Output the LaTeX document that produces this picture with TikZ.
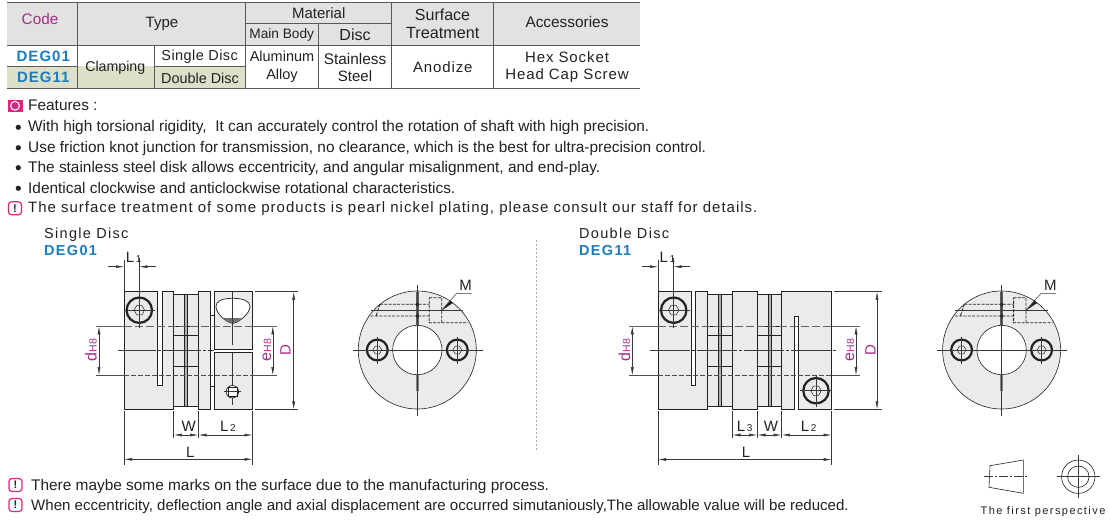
\documentclass[tikz,border=0pt]{standalone}
\usepackage{fontspec}
\setmainfont{Liberation Sans}
\usetikzlibrary{arrows.meta}
\definecolor{hdr}{HTML}{E2E2E0}
\definecolor{beige}{HTML}{DEDFC8}
\definecolor{body}{HTML}{EBEBEB}
\definecolor{blue1}{HTML}{1B7DBE}
\definecolor{purp}{HTML}{A62C8E}
\definecolor{pink}{HTML}{E0267F}
\definecolor{ink}{HTML}{222222}
\newcommand{\fs}[1]{\fontsize{#1}{#1}\selectfont}
\newcommand{\LS}[1]{\addfontfeature{LetterSpace=#1}}
\tikzset{
 tbl/.style={draw=ink!75,line width=.7pt},
 tx/.style={inner sep=0pt,text=ink,anchor=base,font=\fs{15}},
 note/.style={inner sep=0pt,text=ink,anchor=base west,font=\fs{15.4}},
 code/.style={inner sep=0pt,text=blue1,anchor=base,font=\fs{15}\bfseries\LS{7}},
 part/.style={draw=ink,line width=.7pt,fill=body},
 dim/.style={draw=ink!90,line width=.5pt},
 arr/.style={dim,{Latex[length=8pt,width=3pt]}-{Latex[length=8pt,width=3pt]}},
 arrin/.style={dim,-{Latex[length=8pt,width=3pt]}},
 cen/.style={draw=ink!90,line width=.45pt},
 hid/.style={draw=ink,line width=.8pt,dash pattern=on 3pt off 1.3pt},
 dimtx/.style={inner sep=0pt,text=ink,anchor=base west,font=\fs{15}},
 purptx/.style={inner sep=0pt,text=purp,rotate=90,anchor=base,font=\fs{16}},
}
% hex socket screw: centre, radius
\newcommand{\screw}[3]{%
 \fill[body] (#1,#2) circle (#3);
 \draw[ink,line width=2.2pt] (#1,#2) circle (#3-1.1);
 \draw[ink,line width=.5pt] (#1-#3*.38,#2) -- (#1-#3*.19,#2-#3*.33) -- (#1+#3*.19,#2-#3*.33) -- (#1+#3*.38,#2) -- (#1+#3*.19,#2+#3*.33) -- (#1-#3*.19,#2+#3*.33) -- cycle;
 \draw[cen] (#1-#3-2,#2) -- (#1+#3+2,#2) (#1,#2-#3-2) -- (#1,#2+#3+2);
}
\newcommand{\warn}[2]{%
 \node[draw=pink,line width=1.2pt,rounded corners=3pt,minimum width=13pt,minimum height=13pt,inner sep=0pt,text=ink,font=\fs{11}\bfseries] (#1) at #2 {!};}
% end view
\newcommand{\hubview}[1]{%
\begin{scope}[xshift=#1]
 \draw[part,line width=.6pt] (417.3,350) circle (59);
 \fill[white] (417.3,350) circle (24.7);
 \draw[ink,line width=.6pt] (417.3,350) circle (24.7);
 \fill[ink!70] (416,291.5) rectangle (418.8,325.6);
 \fill[ink!55] (416,375) rectangle (418.8,391);
 \fill[ink] (416,303) rectangle (418.8,306) (416,314.5) rectangle (418.8,317.5);
 \draw[hid] (380,304.3) -- (429.3,304.3) (370.7,316) -- (429.3,316) (429.3,297.7) -- (441.7,297.7) -- (441.7,322.7) -- (429.3,322.7) -- cycle (441.7,322.7) -- (468.3,322.7) (380,304.3) -- (376,316);
 \draw[cen] (371,310.7) -- (463.3,310.7);
 \screw{377.3}{350}{11.5}
 \screw{457.3}{350}{11.5}
 \draw[cen] (352.7,350) -- (482.7,350) (417.3,285) -- (417.3,416);
 \fill[ink] (441.7,310.5) -- (450.5,300.5) -- (452.8,303) -- cycle;
 \draw[dim] (441.7,310) -- (456.7,293.3) -- (471.7,293.3);
\end{scope}}
\begin{document}
\begin{tikzpicture}[x=1pt,y=-1pt]
\useasboundingbox (0,0) rectangle (1110,520);
\fill[white] (0,0) rectangle (1110,520);
% ---- table ----
\fill[hdr] (7.3,2) rectangle (640,45);
\fill[beige] (7.3,66) rectangle (245.3,88.3);
\draw[tbl] (7.3,2) -- (640,2) (7.3,88.3) -- (640,88.3);
\draw[tbl,line width=1pt] (7.3,45) -- (640,45);
\draw[tbl] (7.3,66) -- (77.3,66) (154,66) -- (245.3,66) (245.3,23.3) -- (391.7,23.3);
\draw[tbl] (77.3,2) -- (77.3,88.3) (154,45) -- (154,88.3) (245.3,2) -- (245.3,88.3) (318.3,23.3) -- (318.3,88.3) (391.7,2) -- (391.7,88.3) (493.3,2) -- (493.3,88.3);
\node[tx,text=purp,font=\fs{15.3}] (hcode) at (40,24) {Code};
\node[tx] (htype) at (162,27) {Type};
\node[tx] (hmat) at (318.7,18.3) {Material};
\node[tx,font=\fs{13.7}] (hmb) at (281.7,38.3) {Main Body};
\node[tx,font=\fs{16}] (hdisc) at (355,40) {Disc};
\node[tx,font=\fs{16}] (hsurf) at (442.5,20) {Surface};
\node[tx,font=\fs{16.2}] (htreat) at (442.8,38.3) {Treatment};
\node[tx,font=\fs{15.4}] (hacc) at (567,27.3) {Accessories};
\node[code] (c1) at (43.3,61.3) {DEG01};
\node[code] (c2) at (43.3,82.7) {DEG11};
\node[tx,font=\fs{14.2}] (cl) at (115.3,71.7) {Clamping};
\node[tx,font=\fs{14.5}\LS{3}] (sd) at (199.7,60.3) {Single Disc};
\node[tx,font=\fs{14.4}] (dd) at (200,83.3) {Double Disc};
\node[tx,font=\fs{14.5}] (al1) at (282,61.7) {Aluminum};
\node[tx,font=\fs{14.5}] (al2) at (282,79.3) {Alloy};
\node[tx,font=\fs{15.4}] (st1) at (355,64) {Stainless};
\node[tx] (st2) at (355,81) {Steel};
\node[tx,font=\fs{15}\LS{6}] (an) at (442.8,72) {Anodize};
\node[tx,font=\fs{15}\LS{6}] (hs) at (567,62) {Hex Socket};
\node[tx,font=\fs{15}\LS{6}] (hh) at (567,79.3) {Head Cap Screw};
% ---- features ----
\node[fill=pink,minimum width=15pt,minimum height=12.5pt,inner sep=0pt] (fb) at (15,105.8) {};
\draw[white,line width=1pt] (fb.center) circle (4.4);
\node[note] (f0) at (28,110) {Features :};
\foreach \y in {127.3,147.7,167.7,188.3}{\fill[ink] (18.3,\y) circle (2.6);}
\node[note] (f1) at (28,131.7) {With high torsional rigidity,~ It can accurately control the rotation of shaft with high precision.};
\node[note] (f2) at (28,152.3) {Use friction knot junction for transmission, no clearance, which is the best for ultra-precision control.};
\node[note] (f3) at (28,172.3) {The stainless steel disk allows eccentricity, and angular misalignment, and end-play.};
\node[note] (f4) at (28,193.3) {Identical clockwise and anticlockwise rotational characteristics.};
\warn{w1}{(15,208.3)}
\node[note,font=\fs{15}\LS{6.6}] (f5) at (28,212.7) {The surface treatment of some products is pearl nickel plating, please consult our staff for details.};
% ---- titles ----
\node[tx,anchor=base west,font=\fs{14.5}\LS{9}] (t1) at (44,238.3) {Single Disc};
\node[code,anchor=base west,font=\fs{14.5}\bfseries\LS{9}] (t1b) at (44,255) {DEG01};
\node[tx,anchor=base west,font=\fs{14.5}\LS{9}] (t2) at (579,238.3) {Double Disc};
\node[code,anchor=base west,font=\fs{14.5}\bfseries\LS{9}] (t2b) at (579,255) {DEG11};
\draw[ink!40,line width=.5pt,dash pattern=on 2pt off 2pt] (536,240) -- (536,450);
% ---- drawing 1 ----
\draw[part] (124,291.5) -- (157.4,291.5) -- (157.4,385.5) -- (162,385.5) -- (162,291.5) -- (173.7,291.5) -- (173.7,409.7) -- (124,409.7) -- cycle;
\draw[part] (173.7,294.7) rectangle (184.4,406.7);
\draw[part,fill=ink!35] (184.4,294.7) rectangle (187.7,406.7);
\draw[part] (187.7,294.7) rectangle (198.3,406.7);
\draw[part] (198.3,291.5) rectangle (210.7,409.7);
\draw[part] (214,291.5) rectangle (252.7,349);
\draw[part] (214,352.3) rectangle (252.7,409.7);
\draw[part] (210.7,315) -- (214,315) (210.7,386) -- (214,386);
\draw[ink,line width=.6pt] (173.7,335) -- (198.3,335) (173.7,366) -- (198.3,366);
\draw[ink,line width=1pt] (173.7,326) -- (198.3,326);
\draw[part,fill=white] (232.7,298.3) .. controls (222,298.3) and (216,301) .. (216,306.5) .. controls (216,313) and (225,322) .. (232.7,323.5) .. controls (240,322) and (250,313) .. (250,306.5) .. controls (250,301) and (243,298.3) .. (232.7,298.3) -- cycle;
\fill[ink!65] (222.5,318) -- (243,318) -- (232.7,323.5) -- cycle;
\draw[ink!70,line width=.7pt] (95.7,326) -- (124,326) (252.7,326) -- (277,326);
\draw[ink!80,line width=.5pt] (95.7,375.5) -- (124,375.5) (252.7,375.5) -- (277,375.5);
\draw[ink!70,line width=.7pt,dash pattern=on 8pt off 3pt] (124,326) -- (252.7,326);
\draw[ink!80,line width=.5pt,dash pattern=on 5pt off 2pt] (124,375.5) -- (252.7,375.5);
\draw[cen,dash pattern=on 38pt off 2pt on 3pt off 2pt] (118,350.7) -- (214,350.7);
\draw[cen] (232.5,292) -- (232.5,345) (232.5,353) -- (232.5,405);
\draw[part,fill=white] (232.4,391.7) circle (6.2);
\draw[cen] (224,391.7) -- (241,391.7);
\draw[ink,line width=.6pt] (228,387.5) rectangle (237,396);
\screw{139.3}{310.2}{13.8}
% dims 1
\draw[dim] (124,260) -- (124,291) (139.3,258) -- (139.3,328) (124,411) -- (124,465) (173.7,411) -- (173.7,438) (198.3,411) -- (198.3,438) (252.7,411) -- (252.7,465) (255,291.5) -- (298,291.5) (255,409.7) -- (298,409.7);
\coordinate (la) at (124,266.7); \coordinate (lb) at (139.3,266.7);
\coordinate (lao) at (107.7,266.7); \coordinate (lbo) at (156,266.7);
\draw[arrin] (lao) -- (la);
\draw[arrin] (lbo) -- (lb);
\draw[arr] (99,326.3) -- (99,375.2);
\draw[arr] (272.8,326.3) -- (272.8,375.2);
\draw[arr] (293.7,291.8) -- (293.7,409.4);
\draw[arr] (173.9,435) -- (198.1,435);
\draw[arr] (198.5,435) -- (252.5,435);
\draw[arr] (124.2,459.3) -- (252.5,459.3);
\node[dimtx] (l1) at (125.7,262) {L\fs{10}\,1};
\node[purptx] (dh) at (96.7,350) {d\fs{10.5}H8};
\node[purptx] (eh) at (271,350) {e\fs{10.5}H8};
\node[purptx,font=\fs{15}] (dd1) at (290.7,350) {D};
\node[dimtx] (w1l) at (181.5,431.7) {W};
\node[dimtx] (l2l) at (220,431.7) {L\fs{10}\,2};
\node[dimtx] (ll) at (186,457.3) {L};
\hubview{0}
\node[dimtx,anchor=base] (m1) at (465.5,290.7) {M};
% ---- drawing 2 ----
\draw[part] (658,291.5) -- (691.3,291.5) -- (691.3,385) -- (695.7,385) -- (695.7,291.5) -- (707.7,291.5) -- (707.7,409.7) -- (658,409.7) -- cycle;
\draw[part] (707.7,294.7) rectangle (718.3,406.7);
\draw[part,fill=ink!35] (718.3,294.7) rectangle (721.7,406.7);
\draw[part] (721.7,294.7) rectangle (732.3,406.7);
\draw[part] (732.3,291.5) rectangle (757.3,409.7);
\draw[part] (757.3,294.7) rectangle (768.3,406.7);
\draw[part,fill=ink!35] (768.3,294.7) rectangle (771,406.7);
\draw[part] (771,294.7) rectangle (781.7,406.7);
\draw[part] (781.7,291.5) -- (831.7,291.5) -- (831.7,409.7) -- (798,409.7) -- (798,316) -- (794.3,316) -- (794.3,409.7) -- (781.7,409.7) -- cycle;
\draw[ink,line width=.6pt] (707.7,335) -- (732.3,335) (707.7,366) -- (732.3,366) (757.3,335) -- (781.7,335) (757.3,366) -- (781.7,366);
\draw[ink,line width=1pt] (707.7,326) -- (732.3,326) (757.3,326) -- (781.7,326);
\draw[ink!70,line width=.7pt] (629.3,326) -- (658,326) (831.7,326) -- (860,326);
\draw[ink!80,line width=.5pt] (629.3,375.5) -- (658,375.5) (831.7,375.5) -- (860,375.5);
\draw[ink!70,line width=.7pt,dash pattern=on 8pt off 3pt] (658,326) -- (831.7,326);
\draw[ink!80,line width=.5pt,dash pattern=on 5pt off 2pt] (658,375.5) -- (831.7,375.5);
\draw[cen,dash pattern=on 40pt off 2pt on 3pt off 2pt] (650,350.7) -- (837,350.7);
\screw{673.7}{310.2}{13.8}
\screw{816}{390.7}{13.8}
% dims 2
\draw[dim] (658,260) -- (658,291) (673.7,258) -- (673.7,328) (658,411) -- (658,465) (732.3,411) -- (732.3,438) (757.3,411) -- (757.3,438) (781.7,411) -- (781.7,438) (831.7,411) -- (831.7,465) (834,291.5) -- (881.7,291.5) (834,409.7) -- (881.7,409.7);
\coordinate (lc) at (658,266.7); \coordinate (ld) at (673.7,266.7);
\coordinate (lco) at (641.7,266.7); \coordinate (ldo) at (690,266.7);
\draw[arrin] (lco) -- (lc);
\draw[arrin] (ldo) -- (ld);
\draw[arr] (632.3,326.3) -- (632.3,375.2);
\draw[arr] (856,326.3) -- (856,375.2);
\draw[arr] (877,291.8) -- (877,409.4);
\draw[arr] (732.5,435) -- (757.1,435);
\draw[arr] (757.5,435) -- (781.5,435);
\draw[arr] (781.9,435) -- (831.5,435);
\draw[arr] (658.2,459.5) -- (831.5,459.5);
\node[dimtx] (l1b) at (659.3,262) {L\fs{10}\,1};
\node[purptx] (dhb) at (630,350) {d\fs{10.5}H8};
\node[purptx] (ehb) at (854,350) {e\fs{10.5}H8};
\node[purptx,font=\fs{15}] (ddb) at (875.5,350) {D};
\node[dimtx] (l3b) at (736.7,431.7) {L\fs{10}\,3};
\node[dimtx] (wb) at (763.7,431.7) {W};
\node[dimtx] (l2b) at (800.7,431.7) {L\fs{10}\,2};
\node[dimtx] (lb2) at (741.7,457.3) {L};
\hubview{584.3}
\node[dimtx,anchor=base] (m2) at (1050.3,290.7) {M};
% ---- bottom notes ----
\warn{w2}{(15.5,485)}
\node[note] (n1) at (31,490) {There maybe some marks on the surface due to the manufacturing process.};
\warn{w3}{(15.5,505)}
\node[note,font=\fs{15.05}] (n2) at (31,510) {When eccentricity, deflection angle and axial displacement are occurred simutaniously,The allowable value will be reduced.};
% ---- projection symbol ----
\draw[ink,line width=.6pt] (990,465.7) -- (1023.3,460) -- (1023.3,493.3) -- (989,487.3) -- cycle;
\draw[cen,dash pattern=on 9pt off 2pt on 2pt off 2pt] (984,476.7) -- (1028,476.7);
\draw[ink,line width=.6pt] (1078.3,476.7) circle (16.7) (1078.3,476.7) circle (10.7);
\draw[cen] (1056.6,476.7) -- (1100,476.7) (1078.3,455) -- (1078.3,498.4);
\node[tx,font=\fs{11}\LS{13}] (fp) at (1043,514.3) {The first perspective};
\end{tikzpicture}
\end{document}
